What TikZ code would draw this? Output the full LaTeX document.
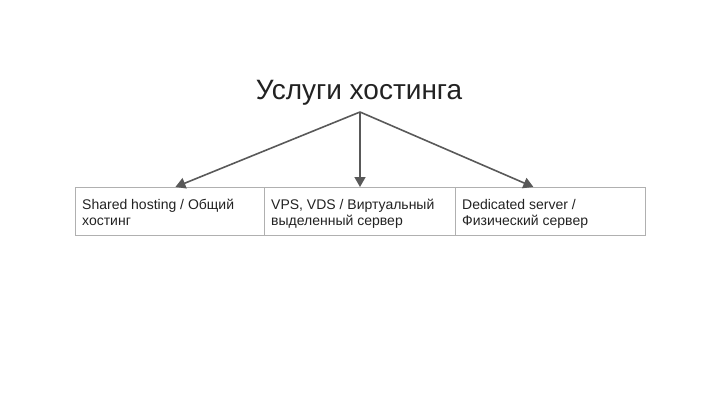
\documentclass[tikz,border=0pt]{standalone}
\usepackage{fontspec}
\setmainfont{Liberation Sans}
\usetikzlibrary{arrows.meta}
\definecolor{linec}{HTML}{595959}
\definecolor{boxc}{HTML}{B0B0B0}
\definecolor{textc}{HTML}{222222}
\tikzset{
  cell/.style={draw=boxc, line width=0.8pt, minimum width=#1, minimum height=48pt, anchor=north west, inner sep=0pt},
  celltext/.style={anchor=base west, align=left, text=textc, font=\fontsize{14}{15.5}\selectfont, inner sep=0pt},
  conn/.style={draw=linec, line width=1.6pt, -{Triangle[length=10pt,width=11pt]}}
}
\begin{document}
\begin{tikzpicture}[x=1pt,y=-1pt]
\useasboundingbox (0,0) rectangle (720,405);
\node[font=\fontsize{28}{32}\selectfont, text=textc, anchor=base, inner sep=0pt] (title) at (359,99) {Услуги хостинга};
\coordinate (src) at (360,112);
\node[cell=189pt] (b1) at (75,187) {};
\node[cell=191pt] (b2) at (264,187) {};
\node[cell=190pt] (b3) at (455,187) {};
\node[celltext] (t1a) at (82,209.5) {Shared hosting / Общий};
\node[celltext] (t1b) at (82,225.5) {хостинг};
\node[celltext] (t2a) at (271,209.5) {VPS, VDS / Виртуальный};
\node[celltext] (t2b) at (271,225.5) {выделенный сервер};
\node[celltext] (t3a) at (462,209.5) {Dedicated server /};
\node[celltext] (t3b) at (462,225.5) {Физический сервер};
\draw[conn] (src) -- ([xshift=5.5pt]b1.north);
\draw[conn] (src) -- (b2.north -| src);
\draw[conn] (src) -- ([xshift=-17pt]b3.north);
\end{tikzpicture}
\end{document}
